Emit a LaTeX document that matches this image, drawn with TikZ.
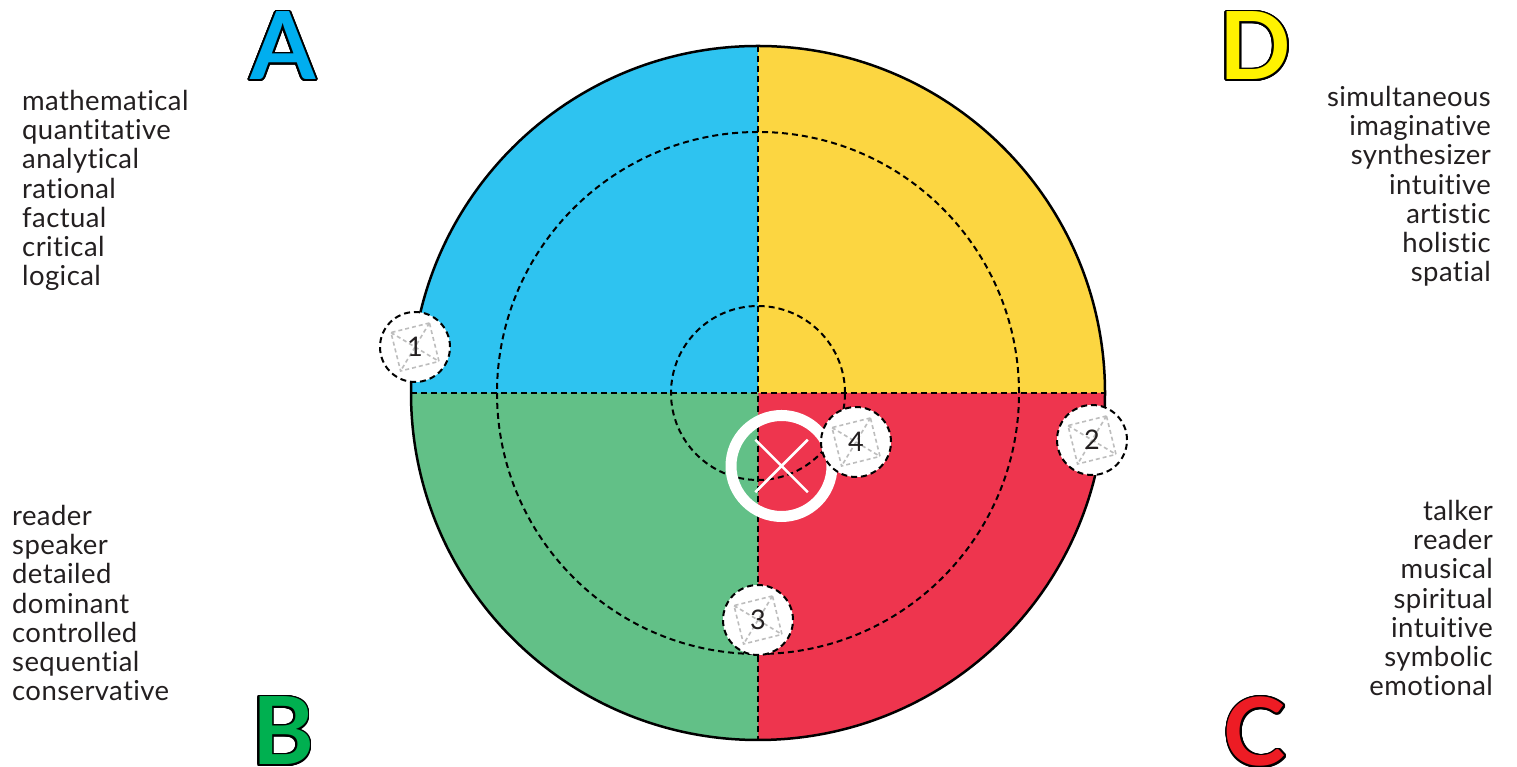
\documentclass[tikz,border=0pt]{standalone}
\usepackage{fontspec}
\setmainfont{Lato}[Ligatures=NoCommon,LetterSpace=1.5]
\usepackage{xcolor}
\usepackage{tikz}
\usetikzlibrary{shapes.misc}
\definecolor{quadA}{HTML}{2EC3F0}
\definecolor{quadD}{HTML}{FCD641}
\definecolor{quadB}{HTML}{62C087}
\definecolor{quadC}{HTML}{EE354E}
\definecolor{markA}{HTML}{00AEEF}
\definecolor{markD}{HTML}{FFF200}
\definecolor{markB}{HTML}{00B050}
\definecolor{markC}{HTML}{ED1C24}
\definecolor{ink}{HTML}{231F20}
\definecolor{iconline}{HTML}{BDBDBD}

% letter with a thin black rim
\newcommand\rimmed[2]{%
  \foreach \ang in {0,15,...,345}{%
    \pgfmathsetlengthmacro\dx{1.8pt*cos(\ang)}%
    \pgfmathsetlengthmacro\dy{1.8pt*sin(\ang)}%
    \rlap{\kern\dx\raisebox{\dy}{\color{black}#2}}}%
  \textcolor{#1}{#2}}

\begin{document}
\begin{tikzpicture}[x=1pt,y=1pt,
  words/.style={font=\fontsize{27.5}{29.2}\selectfont,text=ink,inner sep=0pt},
  corner/.style={font=\fontsize{94}{94}\selectfont\bfseries\addfontfeature{LetterSpace=0},inner sep=0pt},
  guide/.style={draw=black,line width=2pt,dash pattern=on 6pt off 4pt},
  rim/.style={draw=black,line width=2.5pt},
  spot/.style={circle,fill=white,draw=black,line width=2pt,
               dash pattern=on 6pt off 4pt,minimum size=70pt,inner sep=0pt,
               font=\fontsize{27}{27}\selectfont,text=ink,
               path picture={\draw[iconline,line width=1.6pt,dash pattern=on 4pt off 3pt]
                 ([shift={(59:28)}]path picture bounding box.center)
                 -- ([shift={(149:28)}]path picture bounding box.center)
                 -- ([shift={(239:28)}]path picture bounding box.center)
                 -- ([shift={(329:28)}]path picture bounding box.center) -- cycle
                 ([shift={(59:28)}]path picture bounding box.center)
                 -- ([shift={(239:28)}]path picture bounding box.center)
                 ([shift={(149:28)}]path picture bounding box.center)
                 -- ([shift={(329:28)}]path picture bounding box.center);}},
  hub/.style={circle,draw=white,line width=11pt,minimum size=101pt,inner sep=0pt}]
\useasboundingbox (0,0) rectangle (1517,767);
\coordinate (c) at (758,374);

% quadrants
\fill[quadA] (c) -- ++(-347,0) arc[start angle=180,end angle=90,radius=347] -- cycle;
\fill[quadD] (c) -- ++(0,347) arc[start angle=90,end angle=0,radius=347] -- cycle;
\fill[quadC] (c) -- ++(347,0) arc[start angle=360,end angle=270,radius=347] -- cycle;
\fill[quadB] (c) -- ++(0,-347) arc[start angle=270,end angle=180,radius=347] -- cycle;

% dashed rings and axes
\draw[guide] (c) circle[radius=261];
\draw[guide] (c) circle[radius=87];
\draw[guide] (c) ++(0,347) -- ++(0,-694);
\draw[guide] (c) ++(-347,0) -- ++(694,0);
\draw[rim] (c) circle[radius=347];

% target mark
\node[hub] (hub) at (781.5,301) {};
\node[cross out,draw=white,line width=2.5pt,minimum size=50pt] (cross) at (hub) {};

% numbered spots
\node[spot] (s1) at (415,420) {1};
\node[spot] (s2) at (1092,327) {2};
\node[spot] (s3) at (758,147) {3};
\node[spot] (s4) at (856,325) {4};

% corner letters
\node[corner] (aMark) at (283,721) {\rimmed{markA}{A}};
\node[corner] (dMark) at (1255,721) {\rimmed{markD}{D}};
\node[corner] (bMark) at (283,36) {\rimmed{markB}{B}};
\node[corner] (cMark) at (1255,35) {\rimmed{markC}{C}};

% word lists
\node[words,align=left,anchor=north west] (aList) at (22,677)
  {mathematical\\quantitative\\analytical\\rational\\factual\\critical\\logical};
\node[words,align=right,anchor=north east] (dList) at (1491,681)
  {simultaneous\\imaginative\\synthesizer\\intuitive\\artistic\\holistic\\spatial};
\node[words,align=left,anchor=north west] (bList) at (12,262)
  {reader\\speaker\\detailed\\dominant\\controlled\\sequential\\conservative};
\node[words,align=right,anchor=north east] (cList) at (1493,267)
  {talker\\reader\\musical\\spiritual\\intuitive\\symbolic\\emotional};
\end{tikzpicture}
\end{document}
